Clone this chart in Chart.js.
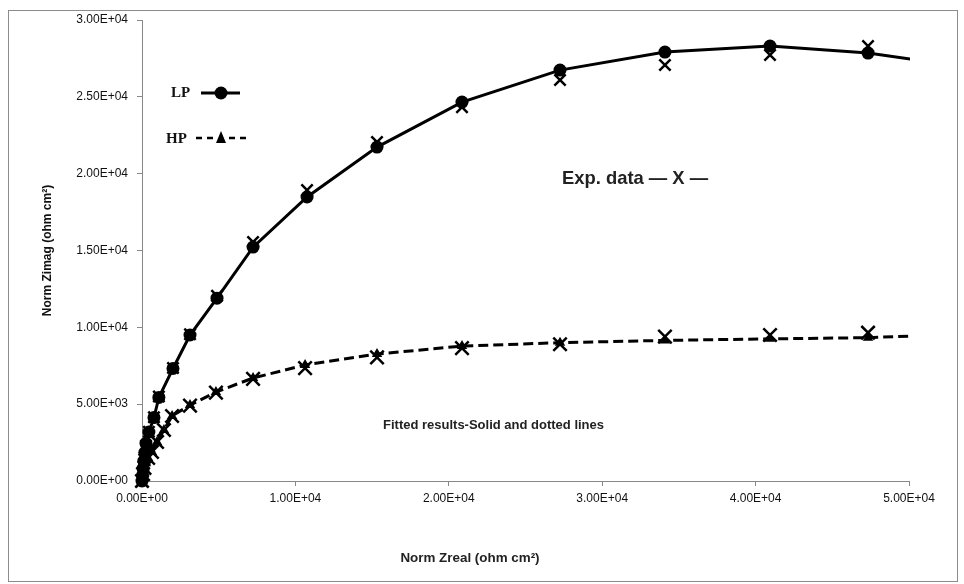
<!DOCTYPE html>
<html>
<head>
<meta charset="utf-8">
<script src="https://cdn.jsdelivr.net/npm/chart.js@4.4.1/dist/chart.umd.min.js"></script>
<style>
  body { margin: 0; background: #fff; }
  #frame { position: absolute; left: 8px; top: 10px; width: 948px; height: 570px; border: 1px solid #8c8c8c; }
  canvas { position: absolute; left: 0; top: 0; }
</style>
</head>
<body>
<div id="frame"></div>
<canvas id="myChart" width="964" height="584"></canvas>
<script>
// fitted LP (solid line, circles)
const lpReal = [0, 30, 70, 120, 180, 260, 450, 780, 1100, 2020, 3130, 4890, 7240, 10760, 15320, 20860, 27250, 34090, 40940, 47330, 54000];
const lpImag = [0, 350, 800, 1300, 1850, 2450, 3190, 4130, 5440, 7320, 9500, 11900, 15220, 18480, 21730, 24660, 26740, 27910, 28300, 27850, 26900];

// fitted HP (dashed line, triangles)
const hpReal = [0, 40, 90, 160, 260, 400, 650, 980, 1430, 1960, 3130, 4820, 7240, 10630, 15320, 20860, 27250, 34090, 40940, 47330, 55000];
const hpImag = [0, 250, 550, 850, 1150, 1500, 1890, 2540, 3320, 4230, 4940, 5790, 6700, 7550, 8260, 8780, 9000, 9150, 9250, 9330, 9600];

// experimental data (X markers)
const expLpReal = [0, 60, 150, 260, 450, 780, 1100, 2020, 3130, 4890, 7240, 10760, 15320, 20860, 27250, 34090, 40940, 47330];
const expLpImag = [0, 600, 1400, 2300, 3200, 4150, 5500, 7350, 9550, 12050, 15550, 18930, 22060, 24330, 26090, 27070, 27720, 28300];
const expHpReal = [0, 70, 160, 400, 650, 980, 1430, 1960, 3130, 4820, 7240, 10630, 15320, 20860, 27250, 34090, 40940, 47330];
const expHpImag = [0, 450, 850, 1500, 1890, 2540, 3320, 4230, 4900, 5750, 6650, 7350, 8050, 8650, 8900, 9400, 9500, 9650];

// axis ticks
const xMax = 50000, xStep = 10000;
const yMax = 30000, yStep = 5000;

function pairs(xs, ys) {
  return xs.map((x, i) => ({ x: x, y: ys[i] }));
}

// 3.00E+04 style labels
function sci(v) {
  if (v === 0) return "0.00E+00";
  const e = Math.floor(Math.log10(Math.abs(v)));
  const m = v / Math.pow(10, e);
  return m.toFixed(2) + "E" + (e < 0 ? "-" : "+") + String(Math.abs(e)).padStart(2, "0");
}

function fitFont(ctx, text, weight, family, width) {
  ctx.font = weight + " 100px " + family;
  const size = (100 * width) / ctx.measureText(text).width;
  ctx.font = weight + " " + size.toFixed(1) + "px " + family;
}

const sans = "'Liberation Sans', Arial, sans-serif";

// legend samples and free text, as in the original figure
const notes = {
  id: "notes",
  afterDraw(chart) {
    const ctx = chart.ctx;
    ctx.save();
    ctx.fillStyle = "#111";
    ctx.strokeStyle = "#000";
    ctx.textBaseline = "middle";

    ctx.font = "bold 15px 'Liberation Serif', serif";
    ctx.fillText("LP", 171, 93);
    ctx.lineWidth = 3;
    ctx.beginPath();
    ctx.moveTo(201, 93);
    ctx.lineTo(240, 93);
    ctx.stroke();
    ctx.beginPath();
    ctx.arc(221, 93, 6.5, 0, Math.PI * 2);
    ctx.fillStyle = "#000";
    ctx.fill();

    ctx.fillStyle = "#111";
    ctx.fillText("HP", 166, 139);
    ctx.lineWidth = 2.5;
    ctx.setLineDash([6, 5]);
    ctx.beginPath();
    ctx.moveTo(196, 138);
    ctx.lineTo(247, 138);
    ctx.stroke();
    ctx.setLineDash([]);
    ctx.fillStyle = "#fff";
    ctx.fillRect(214, 130, 14, 14);
    ctx.fillStyle = "#000";
    ctx.beginPath();
    ctx.moveTo(221, 131);
    ctx.lineTo(226, 143);
    ctx.lineTo(216, 143);
    ctx.closePath();
    ctx.fill();

    ctx.fillStyle = "#222";
    fitFont(ctx, "Exp. data \u2014 X \u2014", "bold", sans, 146);
    ctx.fillText("Exp. data \u2014 X \u2014", 562, 179);

    fitFont(ctx, "Fitted results-Solid and dotted lines", "bold", sans, 221);
    ctx.fillText("Fitted results-Solid and dotted lines", 383, 425);

    ctx.textAlign = "center";
    fitFont(ctx, "Norm Zreal (ohm cm\u00b2)", "bold", sans, 139);
    ctx.fillText("Norm Zreal (ohm cm\u00b2)", 470, 558);
    ctx.restore();
  },
};

const ctx1 = document.getElementById("myChart");

const myChart = new Chart(ctx1, {
  type: "scatter",
  data: {
    datasets: [
      {
        label: "LP",
        data: pairs(lpReal, lpImag),
        showLine: true,
        borderColor: "#000",
        borderWidth: 3,
        pointStyle: "circle",
        pointRadius: 6.5,
        pointBackgroundColor: "#000",
        pointBorderWidth: 0,
        clip: { left: 10, top: 10, right: 1, bottom: 10 },
        order: 1,
      },
      {
        label: "HP",
        data: pairs(hpReal, hpImag),
        showLine: true,
        borderColor: "#000",
        borderWidth: 3,
        borderDash: [10, 5],
        pointStyle: "triangle",
        pointRadius: 6,
        pointBackgroundColor: "#000",
        pointBorderWidth: 0,
        clip: { left: 10, top: 10, right: 1, bottom: 10 },
        order: 2,
      },
      {
        label: "Exp. data LP",
        data: pairs(expLpReal, expLpImag),
        pointStyle: "crossRot",
        pointRadius: 8,
        pointBorderColor: "#000",
        pointBorderWidth: 2.5,
        clip: false,
        order: 3,
      },
      {
        label: "Exp. data HP",
        data: pairs(expHpReal, expHpImag),
        pointStyle: "crossRot",
        pointRadius: 9.5,
        pointBorderColor: "#000",
        pointBorderWidth: 2.5,
        clip: false,
        order: 4,
      },
    ],
  },
  options: {
    responsive: false,
    animation: false,
    devicePixelRatio: 1,
    layout: { padding: { top: 20, right: 55, left: 0, bottom: 0 } },
    plugins: {
      legend: { display: false },
      tooltip: { enabled: false },
    },
    scales: {
      x: {
        type: "linear",
        min: 0,
        max: xMax,
        afterFit: (s) => { s.height = 103; },
        grid: { drawOnChartArea: false, drawTicks: true, tickLength: 5, color: "#888" },
        border: { color: "#888", width: 1 },
        ticks: {
          stepSize: xStep,
          padding: 5,
          color: "#111",
          font: { family: sans, size: 12 },
          callback: (v) => sci(v),
          maxRotation: 0,
        },
      },
      y: {
        min: 0,
        max: yMax,
        afterFit: (s) => { s.width = 142; },
        grid: { drawOnChartArea: false, drawTicks: true, tickLength: 5, color: "#888" },
        border: { color: "#888", width: 1 },
        ticks: {
          stepSize: yStep,
          padding: 9,
          color: "#111",
          font: { family: sans, size: 12 },
          callback: (v) => sci(v),
        },
        title: {
          display: true,
          text: "Norm Zimag (ohm cm\u00b2)",
          color: "#111",
          font: { family: sans, size: 12, weight: "bold" },
          padding: { top: 40, bottom: 0 },
        },
      },
    },
  },
  plugins: [notes],
});
</script>
</body>
</html>
